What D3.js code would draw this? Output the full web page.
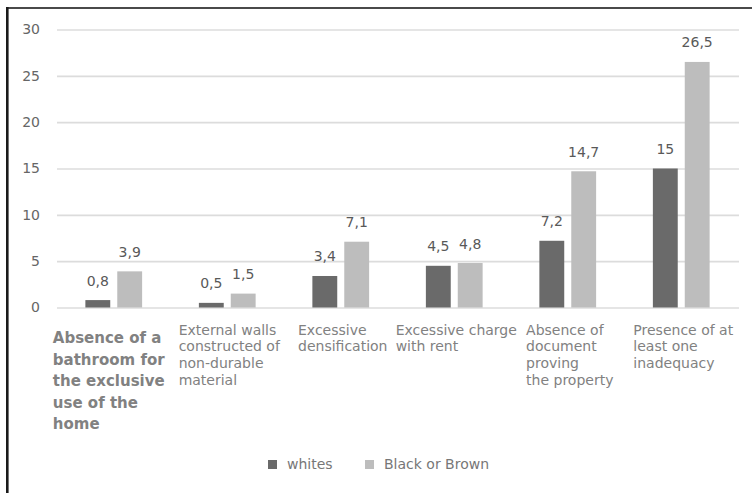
<!DOCTYPE html>
<html>
<head>
<meta charset="utf-8">
<script src="https://cdn.jsdelivr.net/npm/d3@7"></script>
<style>
  html, body { margin: 0; padding: 0; background: #fff; }
  svg { display: block; }
</style>
</head>
<body>
<div id="chart"></div>
<script>
// Housing inadequacies by colour / race (%)
const categories = [
  ["Absence of a", "bathroom for", "the exclusive", "use of the", "home"],
  ["External walls", "constructed of", "non-durable", "material"],
  ["Excessive", "densification"],
  ["Excessive charge", "with rent"],
  ["Absence of", "document", "proving", "the property"],
  ["Presence of at", "least one", "inadequacy"]
];
const seriesNames = ["whites", "Black or Brown"];
const whites = [0.8, 0.5, 3.4, 4.5, 7.2, 15];
const blackOrBrown = [3.9, 1.5, 7.1, 4.8, 14.7, 26.5];
const yTicks = [0, 5, 10, 15, 20, 25, 30];
const colors = ["#6a6a6a", "#bdbdbd"];

const W = 752, H = 493;
const svg = d3.select("#chart").append("svg")
  .attr("width", W).attr("height", H);

// frame lines (top and left)
svg.append("line").attr("x1", 6).attr("x2", W).attr("y1", 8).attr("y2", 8)
  .attr("stroke", "#4a4a4a").attr("stroke-width", 2);
svg.append("line").attr("x1", 7.3).attr("x2", 7.3).attr("y1", 7).attr("y2", H)
  .attr("stroke", "#1a1a1a").attr("stroke-width", 2.6);

const x0 = d3.scaleBand().domain(d3.range(categories.length))
  .range([57, 738]).paddingInner(0.5).paddingOuter(0.25);
const x1 = d3.scaleBand().domain(d3.range(seriesNames.length))
  .range([0, x0.bandwidth()]).paddingInner(0.22);
const y = d3.scaleLinear().domain([0, 30]).range([307.5, 29.5]);

// gridlines + tick labels
const yAxis = d3.axisLeft(y).tickValues(yTicks).tickSize(-(739 - 57)).tickPadding(17)
  .tickFormat(d3.format("d"));
const gAxis = svg.append("g").attr("transform", "translate(57,0)").call(yAxis);
gAxis.select(".domain").remove();
gAxis.selectAll(".tick line").attr("stroke", "#dcdcdc").attr("stroke-width", 1.6);
gAxis.selectAll(".tick text")
  .attr("fill", "#666").attr("font-family", "DejaVu Sans").attr("font-size", 14);

const series = [whites, blackOrBrown];
const groups = svg.append("g").selectAll("g")
  .data(d3.range(categories.length)).join("g")
  .attr("transform", i => `translate(${x0(i)},0)`);

groups.selectAll("rect")
  .data(i => series.map((s, k) => ({ k, v: s[i] }))).join("rect")
  .attr("x", d => x1(d.k)).attr("width", x1.bandwidth())
  .attr("y", d => y(d.v)).attr("height", d => y(0) - y(d.v))
  .attr("fill", d => colors[d.k]);

const fmt = v => String(v).replace(".", ",");
groups.selectAll("text.val")
  .data(i => series.map((s, k) => ({ k, v: s[i] }))).join("text")
  .attr("class", "val")
  .attr("x", d => x1(d.k) + x1.bandwidth() / 2)
  .attr("y", d => y(d.v) - 14.5)
  .attr("text-anchor", "middle")
  .attr("font-family", "DejaVu Sans").attr("font-size", 14)
  .attr("fill", "#595959")
  .text(d => fmt(d.v));

// category labels: wrapped lines, left aligned, block centred on the category
const catG = svg.append("g");
categories.forEach((lines, i) => {
  const big = i === 0;
  const t = catG.append("text")
    .attr("font-family", "DejaVu Sans")
    .attr("font-size", big ? 15 : 14)
    .attr("font-weight", big ? "bold" : "normal")
    .attr("fill", "#818181");
  const lh = big ? 21.5 : 16.8;
  const y0 = big ? 343 : 334.5;
  lines.forEach((ln, j) => {
    t.append("tspan").attr("y", y0 + j * lh).text(ln);
  });
  let maxW = 0;
  t.selectAll("tspan").each(function () {
    maxW = Math.max(maxW, this.getComputedTextLength());
  });
  const cx = x0(i) + x0.bandwidth() / 2 + (big ? -5 : 2);
  t.selectAll("tspan").attr("x", cx - maxW / 2);
});

// legend
const legendX = [268, 365];
const leg = svg.append("g");
seriesNames.forEach((name, k) => {
  leg.append("rect").attr("x", legendX[k]).attr("y", 460)
    .attr("width", 9).attr("height", 9).attr("fill", colors[k]);
  leg.append("text").attr("x", legendX[k] + 19).attr("y", 469)
    .attr("font-family", "DejaVu Sans").attr("font-size", 14)
    .attr("fill", "#777").text(name);
});
</script>
</body>
</html>
